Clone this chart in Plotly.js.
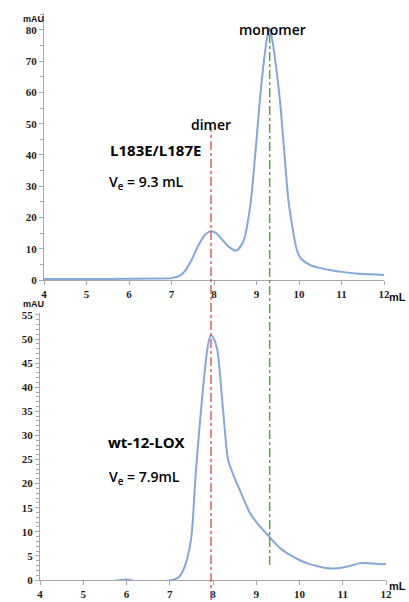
<!DOCTYPE html>
<html>
<head>
<meta charset="utf-8">
<script src="https://cdn.plot.ly/plotly-3.0.1.min.js"></script>
<style>html,body{margin:0;padding:0;background:#fff;}#chart{width:409px;height:602px;}</style>
</head>
<body>
<div id="chart"></div>
<script>
// Top panel: L183E/L187E elution profile (mL, mAU)
var volumeTop = [4, 5, 6, 6.5, 7, 7.2, 7.35, 7.5, 7.65, 7.8, 7.93, 8.05, 8.2, 8.35, 8.52, 8.69, 8.85, 8.98, 9.08, 9.16, 9.24, 9.3, 9.37, 9.46, 9.55, 9.65, 9.75, 9.87, 9.95, 10.05, 10.26, 10.5, 10.73, 11.0, 11.36, 11.7, 12.0];
var absTop    = [0.3, 0.3, 0.4, 0.5, 0.6, 1.4, 3.5, 7.2, 11.5, 14.6, 15.6, 15.0, 12.8, 10.6, 9.4, 12.3, 23.5, 41.6, 57.6, 68.3, 76.8, 80.5, 76.8, 68.3, 57.6, 41.6, 25.6, 14.9, 9.6, 6.8, 4.8, 3.8, 3.2, 2.6, 2.1, 1.8, 1.6];
// Bottom panel: wt-12-LOX elution profile
var volumeBot = [4, 4.5, 5, 5.5, 5.8, 6.0, 6.2, 6.5, 7.0, 7.2, 7.3, 7.4, 7.5, 7.6, 7.7, 7.8, 7.88, 7.95, 8.02, 8.1, 8.18, 8.28, 8.35, 8.45, 8.55, 8.7, 8.86, 9.05, 9.3, 9.45, 9.61, 9.8, 10.01, 10.2, 10.4, 10.6, 10.78, 11.0, 11.2, 11.4, 11.6, 11.8, 12.0];
var absBot    = [-0.4, -0.4, -0.3, -0.3, -0.1, 0.1, -0.2, -0.3, -0.1, 0.5, 1.8, 4.3, 9.0, 22, 33, 42.5, 48.5, 50.8, 50, 47.7, 40.8, 30.4, 24.9, 22.3, 20.1, 17, 13.8, 11.5, 9.0, 7.5, 6.2, 5.1, 4.1, 3.4, 2.9, 2.5, 2.4, 2.6, 3.0, 3.5, 3.5, 3.3, 3.3];
// Axis ticks
var xTicks = [4, 5, 6, 7, 8, 9, 10, 11, 12];
var yTicksTop = [0, 10, 20, 30, 40, 50, 60, 70, 80];
var yTicksBot = [0, 5, 10, 15, 20, 25, 30, 35, 40, 45, 50, 55];
// Marker volumes
var dimerVe = 7.93;
var monomerVe = 9.31;

var curveColor = '#86a8d8';
var axisColor = '#a8a8a8';
var tickFont = {family: 'Liberation Serif, Times New Roman, serif', size: 11, color: '#222'};
function bold(v) { return '<b>' + v + '</b>'; }

var traces = [
  {x: volumeTop, y: absTop, xaxis: 'x', yaxis: 'y', mode: 'lines', line: {color: curveColor, width: 2, shape: 'spline', smoothing: 0.8}, hoverinfo: 'skip'},
  {x: volumeBot, y: absBot, xaxis: 'x2', yaxis: 'y2', mode: 'lines', line: {color: curveColor, width: 2, shape: 'spline', smoothing: 0.8}, hoverinfo: 'skip'}
];

function xAxis(domain, anchor) {
  return {domain: domain, anchor: anchor, range: [4, 12], tickvals: xTicks, ticktext: xTicks.map(bold),
    showgrid: false, zeroline: false, showline: true, linecolor: axisColor, linewidth: 1,
    ticks: 'outside', ticklen: 4, tickcolor: axisColor, tickfont: tickFont, fixedrange: true};
}
function yAxis(domain, anchor, range, ticks, minorStep) {
  return {domain: domain, anchor: anchor, range: range, tickvals: ticks, ticktext: ticks.map(bold),
    showgrid: false, zeroline: false, showline: true, linecolor: axisColor, linewidth: 1,
    ticks: 'outside', ticklen: 4, tickcolor: axisColor, tickfont: tickFont, fixedrange: true,
    minor: {dtick: minorStep, tick0: 0, ticks: 'outside', ticklen: 3, tickcolor: axisColor, showgrid: false}};
}

var sans = 'Open Sans, Noto Sans, sans-serif';
var unitFont = {family: 'Liberation Sans, Arial, sans-serif', size: 9, color: '#111'};
var annotations = [
  {xref: 'paper', yref: 'paper', x: 21/409, y: 1 - 12/602, text: '<b>mAU</b>', showarrow: false, font: unitFont},
  {xref: 'paper', yref: 'paper', x: 21/409, y: 1 - 304/602, text: '<b>mAU</b>', showarrow: false, font: unitFont},
  {xref: 'paper', yref: 'paper', x: 408/409, xanchor: 'right', y: 1 - 297/602, text: '<b>mL</b>', showarrow: false, font: {family: 'Liberation Sans, Arial, sans-serif', size: 11, color: '#111'}},
  {xref: 'paper', yref: 'paper', x: 408/409, xanchor: 'right', y: 1 - 594/602, text: '<b>mL</b>', showarrow: false, font: {family: 'Liberation Sans, Arial, sans-serif', size: 11, color: '#111'}},
  {xref: 'paper', yref: 'paper', x: 272/409, y: 1 - 18/602, text: 'monomer', showarrow: false, font: {family: sans, size: 14, color: '#000', weight: 600}},
  {xref: 'paper', yref: 'paper', x: 211/409, y: 1 - 113/602, text: 'dimer', showarrow: false, font: {family: sans, size: 14, color: '#000', weight: 600}},
  {xref: 'paper', yref: 'paper', x: 108/409, y: 1 - 138/602, text: '<b>L183E/L187E</b>', showarrow: false, font: {family: sans, size: 15, color: '#000'}},
  {xref: 'paper', yref: 'paper', x: 107/409, y: 1 - 170/602, text: 'V<sub>e</sub> = 9.3 mL', showarrow: false, font: {family: sans, size: 14, color: '#000', weight: 600}},
  {xref: 'paper', yref: 'paper', x: 106/409, y: 1 - 454/602, text: '<b>wt-12-LOX</b>', showarrow: false, font: {family: sans, size: 15, color: '#000'}},
  {xref: 'paper', yref: 'paper', x: 107/409, y: 1 - 490/602, text: 'V<sub>e</sub> = 7.9mL', showarrow: false, font: {family: sans, size: 14, color: '#000', weight: 600}}
];

var shapes = [
  {type: 'line', xref: 'x', yref: 'paper', x0: dimerVe, x1: dimerVe, y0: 1 - 600/602, y1: 1 - 127/602, line: {color: '#d9454a', width: 1.3, dash: 'dashdot'}},
  {type: 'line', xref: 'x', yref: 'paper', x0: monomerVe, x1: monomerVe, y0: 1 - 565/602, y1: 1 - 28/602, line: {color: '#5f9e4c', width: 1.5, dash: 'dashdot'}}
];

var layout = {
  width: 409, height: 602,
  margin: {l: 0, r: 0, t: 0, b: 0},
  paper_bgcolor: '#ffffff', plot_bgcolor: 'rgba(0,0,0,0)',
  showlegend: false,
  xaxis: xAxis([44/409, 384/409], 'y'),
  yaxis: yAxis([1 - 280/602, 1 - 13/602], 'x', [0, 85.4], yTicksTop, 5),
  xaxis2: xAxis([40/409, 386/409], 'y2'),
  yaxis2: yAxis([1 - 580/602, 1 - 313/602], 'x2', [0, 55.4], yTicksBot, 1),
  annotations: annotations,
  shapes: shapes
};

Plotly.newPlot('chart', traces, layout, {displayModeBar: false, staticPlot: true});
</script>
</body>
</html>
